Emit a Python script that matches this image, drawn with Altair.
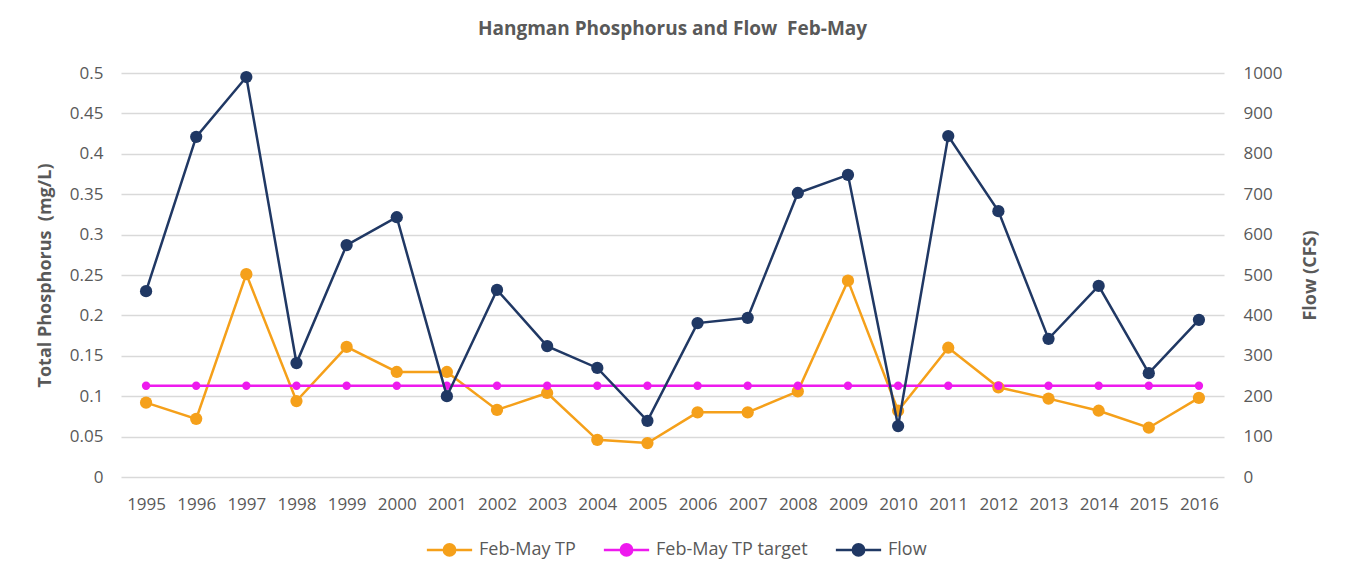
import altair as alt
import pandas as pd

years = [str(y) for y in range(1995, 2017)]
tp = [0.092, 0.072, 0.251, 0.094, 0.161, 0.130, 0.130, 0.083, 0.104, 0.046, 0.042,
      0.080, 0.080, 0.106, 0.243, 0.082, 0.160, 0.111, 0.097, 0.082, 0.061, 0.098]
tp_target = [0.113] * 22
flow = [460, 842, 990, 282, 574, 643, 200, 463, 324, 270, 139,
        381, 394, 703, 748, 126, 844, 658, 342, 473, 257, 389]

series_names = ["Feb-May TP", "Feb-May TP target", "Flow"]
series_colors = ["#F5A01A", "#EE1AEE", "#203864"]

left_df = pd.DataFrame({
    "Year": years * 2,
    "TPval": tp + tp_target,
    "Series": [series_names[0]] * 22 + [series_names[1]] * 22,
})
flow_df = pd.DataFrame({"Year": years, "Flow": flow, "Series": [series_names[2]] * 22})

FONT = "Open Sans"
GRAY = "#595959"
NB = "\u00a0"

sym_path = "M-1.6,0H1.6M-0.4,0A0.4,0.4,0,1,0,0.4,0A0.4,0.4,0,1,0,-0.4,0Z"

legend = alt.Legend(
    title=None, orient="none", direction="horizontal",
    legendX=313, legendY=461,
    symbolType=sym_path, symbolSize=800, symbolStrokeWidth=2.5, symbolOpacity=1,
    labelFontSize=18, labelFont=FONT, labelColor=GRAY, labelOffset=14,
    columnPadding=22,
)
cscale = alt.Scale(domain=series_names, range=series_colors)
stroke = alt.Stroke("Series:N", scale=cscale, legend=legend)
fill = alt.Fill("Series:N", scale=cscale, legend=legend)

x = alt.X("Year:O", scale=alt.Scale(type="point", padding=0.5),
          axis=alt.Axis(title=None, labelAngle=0, labelFontSize=17, labelFont=FONT,
                        labelColor=GRAY, ticks=False, domain=False, labelPadding=19,
                        grid=False))

y_left = alt.Y("TPval:Q", scale=alt.Scale(domain=[0, 0.5], nice=False),
               axis=alt.Axis(title="Total Phosphorus" + NB + NB + "(mg/L)",
                             values=[i * 0.05 for i in range(11)],
                             format="~g", labelFontSize=17, labelFont=FONT, labelColor=GRAY,
                             titleFontSize=18, titleFont=FONT, titleColor=GRAY, titleFontWeight="bold",
                             ticks=False, domain=False, labelPadding=18, titlePadding=15,
                             grid=True, gridColor="#D9D9D9", gridWidth=1.3))

left_line = alt.Chart(left_df).mark_line(strokeWidth=2.5).encode(
    x=x, y=y_left, stroke=stroke, detail="Series:N")
left_pts = alt.Chart(left_df).mark_point(filled=True, opacity=1).encode(
    x=x, y=y_left, fill=fill,
    size=alt.Size("Series:N", scale=alt.Scale(domain=series_names[:2], range=[150, 70]), legend=None))

y_right = alt.Y("Flow:Q", scale=alt.Scale(domain=[0, 1000], nice=False),
                axis=alt.Axis(title="Flow (CFS)", orient="right", values=list(range(0, 1001, 100)),
                              format="d",
                              labelFontSize=17, labelFont=FONT, labelColor=GRAY,
                              titleFontSize=18, titleFont=FONT, titleColor=GRAY, titleFontWeight="bold",
                              titleAngle=270, ticks=False, domain=False, labelPadding=19,
                              titlePadding=38, grid=False))

flow_line = alt.Chart(flow_df).mark_line(strokeWidth=2.5).encode(x=x, y=y_right, stroke=stroke)
flow_pts = alt.Chart(flow_df).mark_point(filled=True, opacity=1, size=150).encode(
    x=x, y=y_right, fill=fill)

left = alt.layer(left_line, left_pts)
right = alt.layer(flow_line, flow_pts)

chart = alt.layer(left, right).resolve_scale(y="independent", size="independent").properties(
    width=1103, height=404,
    autosize=alt.AutoSizeParams(type="none"),
    padding={"left": 113, "top": 65, "right": 112, "bottom": 90},
    title=alt.Title("Hangman Phosphorus and Flow" + NB + NB + "Feb-May", fontSize=19, font=FONT,
                    color=GRAY, fontWeight="bold", offset=25, anchor="middle"),
    background="white",
).configure_view(stroke=None)

chart.save("out.html", embed_options={"renderer": "svg", "actions": False})
